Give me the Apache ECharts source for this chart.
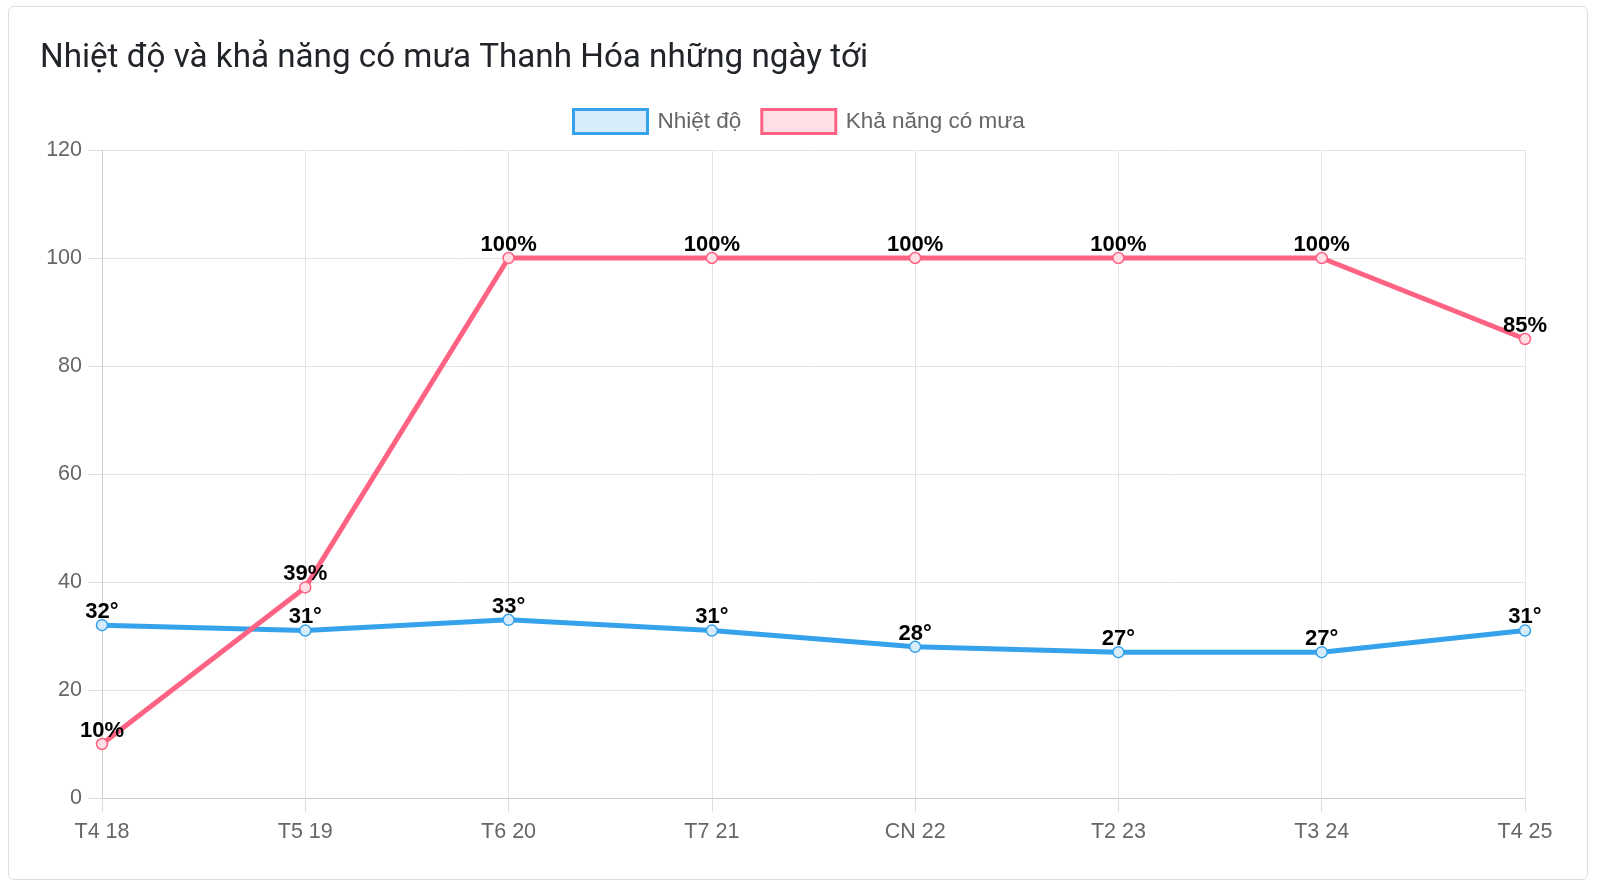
<!DOCTYPE html>
<html>
<head>
<meta charset="utf-8">
<script src="https://cdn.jsdelivr.net/npm/echarts@6/dist/echarts.min.js"></script>
<style>
  html, body { margin: 0; padding: 0; background: #fff; overflow: hidden; }
  #card {
    position: absolute; left: 8px; top: 6px; width: 1578px; height: 872px;
    border: 1px solid rgba(0,0,0,0.13); border-radius: 6px;
  }
  #weatherChart { position: absolute; left: 0; top: 0; width: 1600px; height: 890px; }
</style>
</head>
<body>
<div id="card"></div>
<div id="weatherChart"></div>
<script>
let days = ['T4 18', 'T5 19', 'T6 20', 'T7 21', 'CN 22', 'T2 23', 'T3 24', 'T4 25'];
let temps = [32, 31, 33, 31, 28, 27, 27, 31];
let rainChance = [10, 39, 100, 100, 100, 100, 100, 85];

let chartDom = document.getElementById('weatherChart');
let myChart = echarts.init(chartDom);
let option;

const blue = '#36a2eb';
const pink = '#ff6384';
const sans = 'Liberation Sans, Arial, Helvetica, sans-serif';
const labelFont = { color: '#000', fontWeight: 'bold', fontSize: 22, fontFamily: sans };

option = {
    animation: false,
    title: {
        text: 'Nhiệt độ và khả năng có mưa Thanh Hóa những ngày tới',
        left: 35,
        top: 37,
        textStyle: { fontFamily: 'Roboto, sans-serif', fontWeight: 'normal', fontSize: 33.2, color: '#212529' }
    },
    legend: {
        left: 567,
        top: 103,
        itemWidth: 74,
        itemHeight: 24,
        itemGap: 19,
        textStyle: { fontSize: 22.5, color: '#666', fontFamily: sans, padding: [0, 0, 0, 5] },
        data: [
            { name: 'Nhiệt độ', icon: 'rect', itemStyle: { color: 'rgba(54,162,235,0.2)', borderColor: blue, borderWidth: 3 } },
            { name: 'Khả năng có mưa', icon: 'rect', itemStyle: { color: 'rgba(255,99,132,0.2)', borderColor: pink, borderWidth: 3 } }
        ]
    },
    grid: { left: 102, right: 75, top: 150, bottom: 92 },
    xAxis: {
        type: 'category',
        data: days,
        boundaryGap: false,
        axisLine: { lineStyle: { color: '#cccccc' } },
        axisTick: { show: true, length: 14, lineStyle: { color: '#dddddd' } },
        axisLabel: { color: '#666', fontSize: 21.5, margin: 23, fontFamily: sans },
        splitLine: { show: true, lineStyle: { color: '#e4e4e4' } }
    },
    yAxis: {
        type: 'value',
        min: 0,
        max: 120,
        interval: 20,
        axisLine: { show: true, lineStyle: { color: '#cccccc' } },
        axisTick: { show: true, length: 14, lineStyle: { color: '#dddddd' } },
        axisLabel: { color: '#666', fontSize: 21.5, margin: 20, fontFamily: sans },
        splitLine: { show: true, lineStyle: { color: '#e4e4e4' } }
    },
    series: [
        {
            name: 'Nhiệt độ',
            type: 'line',
            data: temps,
            symbol: 'circle',
            symbolSize: 11,
            lineStyle: { color: blue, width: 5 },
            itemStyle: { color: 'rgba(215,236,251,1)', borderColor: blue, borderWidth: 1.5 },
            label: Object.assign({ show: true, position: 'top', distance: -4, formatter: '{c}°' }, labelFont)
        },
        {
            name: 'Khả năng có mưa',
            type: 'line',
            data: rainChance,
            symbol: 'circle',
            symbolSize: 11,
            lineStyle: { color: pink, width: 5 },
            itemStyle: { color: 'rgba(255,224,230,1)', borderColor: pink, borderWidth: 1.5 },
            label: Object.assign({ show: true, position: 'top', distance: -4, formatter: '{c}%' }, labelFont)
        }
    ]
};

option && myChart.setOption(option);
</script>
</body>
</html>
